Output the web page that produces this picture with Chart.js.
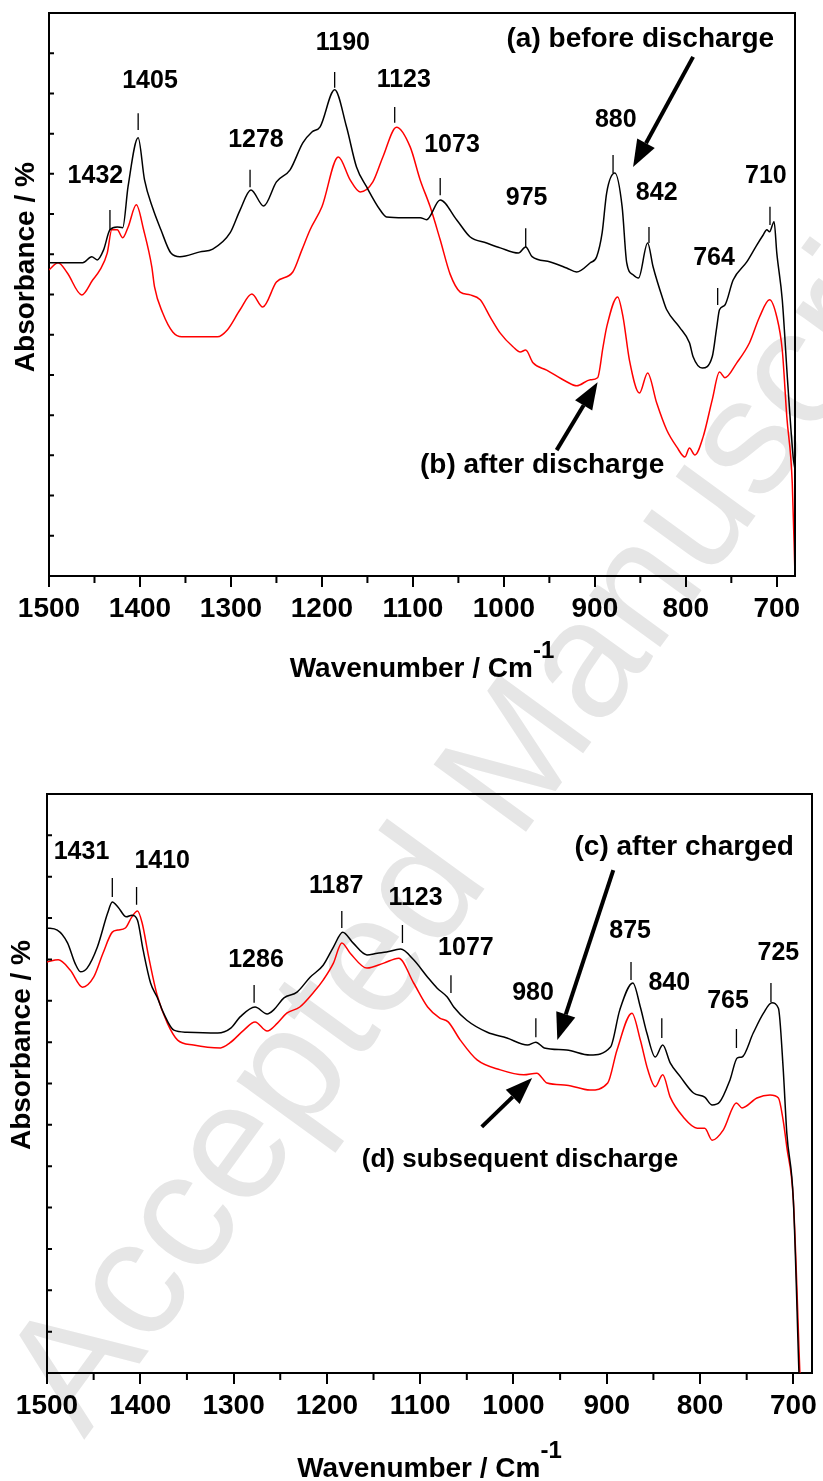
<!DOCTYPE html>
<html>
<head>
<meta charset="utf-8">
<script src="https://cdn.jsdelivr.net/npm/chart.js@4.4.0/dist/chart.umd.min.js"></script>
<style>
  body { margin: 0; background: #fff; width: 823px; height: 1481px; position: relative; overflow: hidden; }
  canvas { position: absolute; left: 0; }
  #fond { top: 0; }
  #graf_haut { top: 0; }
  #graf_bas { top: 740px; }
</style>
</head>
<body>
<canvas id="fond" width="823" height="1481"></canvas>
<canvas id="graf_haut" width="823" height="740"></canvas>
<canvas id="graf_bas" width="823" height="741"></canvas>
<script>
// graduations de l'axe des nombres d'onde (cm-1)
const xTicks = [1500, 1400, 1300, 1200, 1100, 1000, 900, 800, 700];
const xMinor = [1450, 1350, 1250, 1150, 1050, 950, 850, 750];

// (a) avant décharge - courbe noire du haut
const wnA = [1500,1480,1463,1453,1447,1440,1433,1425,1419,1413,1402,1395,1386,1377,1366,1356,1334,1320,1301,1290,1278,1264,1250,1235,1221,1211,1202,1186,1173,1162,1151,1136,1129,1110,1092,1085,1070,1052,1037,1019,1004,984,976,969,949,931,920,905,898,892,887,878,870,865,858,852,842,836,825,821,807,796,792,782,771,766,763,757,748,733,722,715,711,708,703,700,694,688,682,680];
const absA = [7.79,7.79,7.79,7.94,7.86,8.11,8.61,8.68,8.66,9.70,10.90,9.85,9.15,8.61,8.03,7.94,8.06,8.13,8.53,9.10,9.60,9.20,9.80,10.10,10.77,11.04,11.17,12.09,11.17,10.17,9.68,9.10,8.93,8.91,8.91,8.86,9.35,8.86,8.43,8.28,8.16,8.03,8.18,7.94,7.81,7.66,7.56,7.79,7.94,8.53,9.53,10.02,9.18,7.79,7.49,7.41,8.28,7.69,6.87,6.62,6.19,5.80,5.45,5.17,5.45,6.19,6.62,6.74,7.36,7.81,8.23,8.48,8.61,8.56,8.81,8.03,6.87,4.80,2.96,2.64];

// (b) après décharge - courbe rouge du haut
const wnB = [1500,1490,1480,1464,1452,1444,1436,1431,1425,1419,1413,1404,1396,1387,1384,1375,1364,1354,1315,1304,1290,1277,1265,1250,1232,1222,1213,1200,1182,1169,1158,1144,1133,1118,1103,1092,1081,1070,1059,1048,1037,1026,1015,1004,990,982,976,968,953,931,920,905,897,891,887,875,869,862,851,842,832,821,810,801,796,790,781,771,763,757,744,730,719,708,700,694,689,683,680];
const absB = [7.61,7.79,7.54,6.99,7.36,7.61,8.03,8.61,8.61,8.41,8.68,9.23,8.61,7.69,7.19,6.54,6.07,5.95,5.95,6.12,6.62,7.01,6.69,7.31,7.56,8.11,8.61,9.18,10.42,9.85,9.55,9.80,10.42,11.16,10.67,9.85,9.18,8.36,7.50,7.06,6.99,6.87,6.44,6.04,5.70,5.57,5.62,5.30,5.12,4.83,4.73,4.88,4.93,5.70,6.19,6.94,6.44,5.37,4.55,5.05,4.30,3.63,3.21,2.96,3.18,3.01,3.46,4.38,5.07,4.93,5.30,5.80,6.44,6.87,6.44,5.62,3.96,2.31,0.0];

// (c) après charge - courbe noire du bas
const wnC = [1500,1489,1478,1470,1464,1457,1446,1435,1430,1424,1415,1409,1403,1397,1389,1382,1375,1364,1350,1317,1303,1293,1277,1264,1257,1246,1232,1218,1204,1193,1183,1172,1157,1146,1136,1121,1107,1092,1082,1071,1064,1050,1028,1007,985,976,967,943,918,896,886,872,864,857,848,840,832,821,807,795,787,779,768,760,755,743,732,723,716,711,707,700,694];
const absC = [10.76,10.71,10.40,9.91,9.70,9.79,10.30,11.12,11.39,11.27,11.03,11.07,10.95,10.23,9.43,9.09,8.70,8.29,8.24,8.22,8.34,8.61,8.85,8.68,8.78,9.07,9.21,9.57,9.86,10.30,10.66,10.40,10.11,10.15,10.18,10.25,9.99,9.57,9.31,9.09,8.85,8.53,8.24,8.10,7.93,8.00,7.86,7.81,7.69,7.88,8.78,9.43,8.85,8.22,7.64,7.93,7.50,7.16,6.77,6.67,6.48,6.55,7.08,7.62,7.64,8.22,8.70,8.95,8.82,7.40,5.80,4.18,0.0];

// (d) décharge suivante - courbe rouge du bas
const wnD = [1500,1488,1475,1462,1450,1440,1430,1424,1416,1409,1403,1398,1391,1382,1371,1360,1343,1314,1304,1289,1277,1264,1253,1243,1229,1214,1204,1193,1184,1175,1157,1139,1123,1107,1092,1079,1070,1057,1039,1014,989,975,964,943,918,899,889,873,864,856,848,840,832,818,803,795,787,775,761,755,739,725,716,711,707,700,693];
const absD = [9.94,9.99,9.74,9.33,9.57,10.15,10.66,10.71,10.76,11.03,11.17,10.88,10.06,9.14,8.46,8.05,7.93,7.86,7.98,8.29,8.49,8.27,8.46,8.70,8.85,9.21,9.50,9.91,10.40,10.15,9.79,9.91,10.03,9.43,8.85,8.58,8.49,8.05,7.57,7.33,7.21,7.25,7.01,6.96,6.84,7.01,7.81,8.70,8.05,7.33,6.92,7.21,6.67,6.19,5.92,5.92,5.63,5.88,6.53,6.41,6.65,6.72,6.65,6.12,5.46,4.18,0.0];

// noms des pics
const peaksTop = ['1432', '1405', '1278', '1190', '1123', '1073', '975', '880', '842', '764', '710'];
const peaksBot = ['1431', '1410', '1286', '1187', '1123', '1077', '980', '875', '840', '765', '725'];

const police = '"Liberation Sans", Arial, Helvetica, sans-serif';

function points(wn, ab) {
  return wn.map((x, i) => ({ x: x, y: ab[i] }));
}

function fleche(ctx, x0, y0, x1, y1) {
  const a = Math.atan2(y1 - y0, x1 - x0);
  const head = 27, half = 10;
  const bx = x1 - head * Math.cos(a), by = y1 - head * Math.sin(a);
  ctx.lineWidth = 4;
  ctx.beginPath(); ctx.moveTo(x0, y0); ctx.lineTo(bx, by); ctx.stroke();
  ctx.beginPath();
  ctx.moveTo(x1, y1);
  ctx.lineTo(bx + half * Math.sin(a), by - half * Math.cos(a));
  ctx.lineTo(bx - half * Math.sin(a), by + half * Math.cos(a));
  ctx.closePath(); ctx.fill();
}

// cadre, petites graduations, annotations et titres des axes
const decor = {
  id: 'decor',
  afterDraw(chart, args, o) {
    const ctx = chart.ctx;
    const { left, right, top, bottom } = chart.chartArea;
    const sx = chart.scales.x, sy = chart.scales.y;
    const px = v => sx.getPixelForValue(v), py = v => sy.getPixelForValue(v);
    ctx.save();
    ctx.strokeStyle = '#000';
    ctx.fillStyle = '#000';
    ctx.lineWidth = 2;
    ctx.beginPath();
    ctx.moveTo(left, top); ctx.lineTo(right, top); ctx.lineTo(right, bottom);
    ctx.stroke();
    ctx.beginPath();
    sy.ticks.forEach(t => { ctx.moveTo(left, py(t.value)); ctx.lineTo(left + 5, py(t.value)); });
    xMinor.forEach(v => { ctx.moveTo(px(v), bottom); ctx.lineTo(px(v), bottom + 7); });
    ctx.stroke();

    // repères au-dessus des pics
    ctx.lineWidth = 1.3;
    ctx.beginPath();
    o.marks.forEach(m => { ctx.moveTo(px(m[0]), py(m[1])); ctx.lineTo(px(m[0]), py(m[2])); });
    ctx.stroke();

    ctx.textAlign = 'center';
    ctx.textBaseline = 'alphabetic';
    ctx.font = 'bold 25px ' + police;
    o.names.forEach((n, i) => ctx.fillText(n, px(o.pos[i][0]), py(o.pos[i][1])));
    o.notes.forEach(n => {
      ctx.font = 'bold ' + n[3] + 'px ' + police;
      ctx.fillText(n[0], px(n[1]), py(n[2]));
    });
    o.arrows.forEach(a => fleche(ctx, px(a[0]), py(a[1]), px(a[2]), py(a[3])));

    // titre axe x avec exposant
    ctx.font = 'bold 28px ' + police;
    const t1 = 'Wavenumber / Cm';
    const w1 = ctx.measureText(t1).width;
    ctx.font = 'bold 24px ' + police;
    const w2 = ctx.measureText('-1').width;
    const x0 = (left + right) / 2 - (w1 + w2) / 2;
    const yb = bottom + o.xGap;
    ctx.textAlign = 'left';
    ctx.font = 'bold 28px ' + police;
    ctx.fillText(t1, x0, yb);
    ctx.font = 'bold 24px ' + police;
    ctx.fillText('-1', x0 + w1, yb - 19);

    // titre axe y
    ctx.translate(o.yTitleX, py(o.yTitleV));
    ctx.rotate(-Math.PI / 2);
    ctx.textAlign = 'center';
    ctx.textBaseline = 'middle';
    ctx.font = 'bold 28px ' + police;
    ctx.fillText('Absorbance / %', 0, 0);
    ctx.restore();
  }
};

function options(pad, yWidth, xHeight, deco) {
  return {
    responsive: false,
    animation: false,
    devicePixelRatio: 1,
    layout: { padding: pad },
    plugins: { legend: { display: false }, tooltip: { enabled: false }, decor: deco },
    elements: { point: { radius: 0 }, line: { borderWidth: 1.5, cubicInterpolationMode: 'monotone' } },
    scales: {
      x: {
        type: 'linear', reverse: true, min: 680, max: 1500,
        afterBuildTicks: s => { s.ticks = xTicks.map(v => ({ value: v })); },
        afterFit: s => { s.height = xHeight; },
        ticks: { color: '#000', padding: 5, maxRotation: 0, autoSkip: false,
                 font: { family: police, size: 28, weight: 'bold' }, callback: v => String(v) },
        grid: { drawOnChartArea: false, drawTicks: true, tickLength: 11, color: '#000', lineWidth: 2 },
        border: { display: true, color: '#000', width: 2 }
      },
      y: {
        min: 0, max: 14,
        afterFit: s => { s.width = yWidth; },
        ticks: { display: false, stepSize: 1 },
        grid: { display: false },
        border: { display: true, color: '#000', width: 2 }
      }
    }
  };
}

// graphique du haut : (a) et (b)
new Chart(document.getElementById('graf_haut'), {
  type: 'line',
  data: {
    datasets: [
      { label: '(a) before discharge', data: points(wnA, absA), borderColor: '#000000' },
      { label: '(b) after discharge', data: points(wnB, absB), borderColor: '#ff0000' }
    ]
  },
  options: options({ left: 0, top: 13, right: 28, bottom: 0 }, 49, 164, {
    names: peaksTop,
    pos: [[1449, 9.77], [1389, 12.14], [1272.5, 10.67], [1177, 13.08], [1110, 12.16], [1057, 10.54], [975, 9.23], [877, 11.17], [832, 9.35], [769, 7.73], [712, 9.77]],
    marks: [[1433, 9.10, 8.60], [1402, 11.51, 11.09], [1279, 10.10, 9.67], [1186, 12.53, 12.14], [1120, 11.66, 11.27], [1070, 9.90, 9.47], [976, 8.65, 8.18], [880, 10.47, 10.02], [840.5, 8.68, 8.28], [765, 7.16, 6.74], [707.5, 9.18, 8.73]],
    notes: [['(a) before discharge', 850, 13.16, 28], ['(b) after discharge', 958, 2.56, 28]],
    arrows: [[792, 12.91, 858, 10.17], [942, 3.13, 897, 4.82]],
    xGap: 101, yTitleX: 26, yTitleV: 7.68
  }),
  plugins: [decor]
});

// graphique du bas : (c) et (d)
new Chart(document.getElementById('graf_bas'), {
  type: 'line',
  data: {
    datasets: [
      { label: '(c) after charged', data: points(wnC, absC), borderColor: '#000000' },
      { label: '(d) subsequent discharge', data: points(wnD, absD), borderColor: '#ff0000' }
    ]
  },
  options: options({ left: 0, top: 54, right: 11, bottom: 0 }, 47, 108, {
    names: peaksBot,
    pos: [[1463, 12.43], [1376.5, 12.21], [1276, 9.82], [1190, 11.61], [1105, 11.32], [1051, 10.11], [979, 9.02], [875, 10.52], [833, 9.26], [770, 8.83], [716, 9.99]],
    marks: [[1430, 11.97, 11.51], [1404, 11.75, 11.32], [1278, 9.38, 8.95], [1184, 11.17, 10.76], [1119, 10.83, 10.40], [1067, 9.62, 9.19], [976, 8.58, 8.12], [874, 9.94, 9.50], [841, 8.58, 8.10], [761, 8.32, 7.86], [724, 9.43, 8.97]],
    notes: [['(c) after charged', 817, 12.52, 28], ['(d) subsequent discharge', 993, 4.98, 26]],
    arrows: [[893, 12.16, 953, 8.05], [1034, 5.95, 980, 7.13]],
    xGap: 104, yTitleX: 22, yTitleV: 7.93
  }),
  plugins: [decor]
});

// filigrane gris en fond
const f = document.getElementById('fond').getContext('2d');
f.save();
f.fillStyle = '#e6e6e6';
f.font = '166px ' + police;
f.translate(84, 1440);
f.rotate(-54 * Math.PI / 180);
f.fillText('Accepted Manuscript', 0, 0);
f.restore();
</script>
</body>
</html>
